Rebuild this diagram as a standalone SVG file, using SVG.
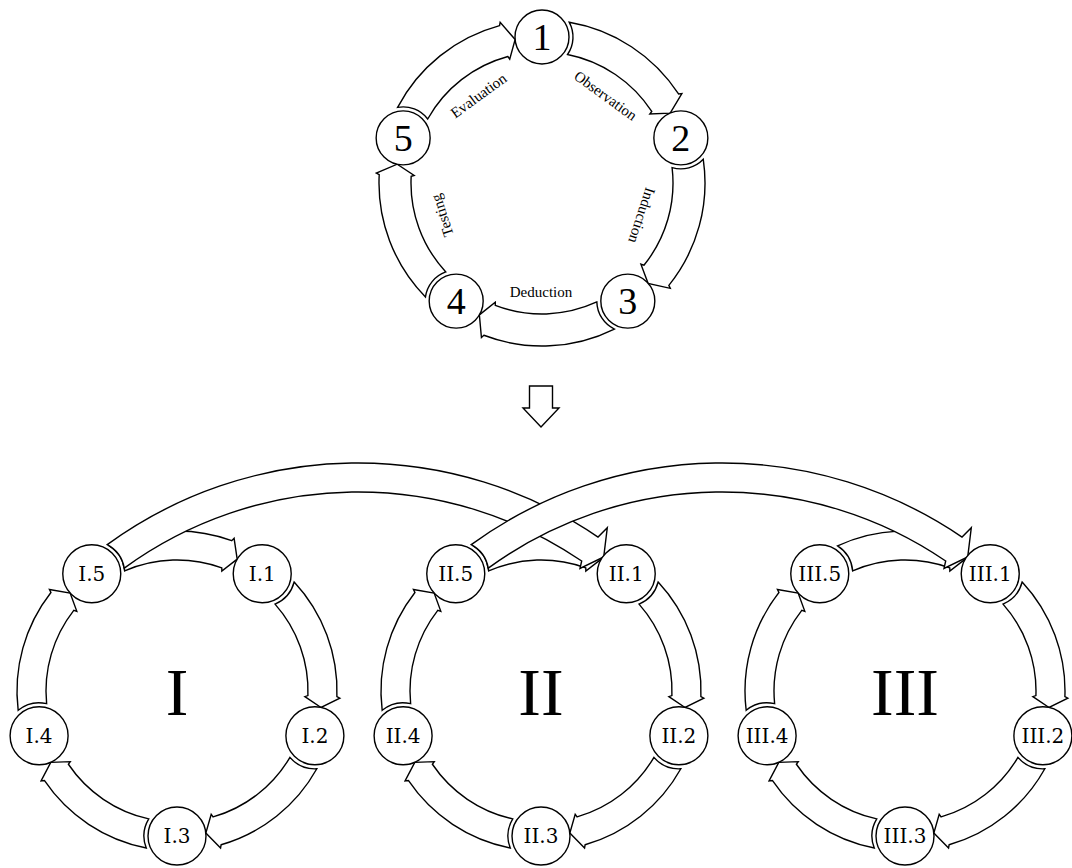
<svg xmlns="http://www.w3.org/2000/svg" width="1072" height="868" viewBox="0 0 1072 868">
<style>
.a{fill:#fff;stroke:#000;stroke-width:1.4;stroke-linejoin:miter}
.n{fill:#fff;stroke:#000;stroke-width:1.4}
.t{font-family:"Liberation Serif","Times New Roman",serif;fill:#000;text-anchor:middle}
.num{font-size:38px}
.lbl{font-size:15px}
.sub{font-family:"DejaVu Serif","Liberation Serif",serif;font-size:20px}
.big{font-size:68px}
</style>
<defs>
<path id="arcT" fill="#fff" stroke="#000" stroke-width="1.4" d="M 160.70 27.29 A 163 163 0 0 1 89.01 136.55 L 89.44 139.85 L 69.89 128.19 L 68.97 107.84 L 71.54 109.74 A 131 131 0 0 0 128.48 25.57 A 31 31 0 0 0 160.70 27.29 Z"/>
<path id="arcB" fill="#fff" stroke="#000" stroke-width="1.4" d="M 157.02 30.74 A 160 160 0 0 1 89.47 132.64 L 89.96 135.93 L 71.35 126.22 L 70.64 106.74 L 73.26 108.60 A 131 131 0 0 0 127.92 28.24 A 33 33 0 0 0 157.02 30.74 Z"/>
<path id="bigArrow" fill="#fff" stroke="#000" stroke-width="1.4" d="M 107.25 544.62 A 426 426 0 0 1 598.05 537.08 L 607.3 527.7 L 603.7 557.0 L 580.0 568.4 L 581.7 561.0 A 397 397 0 0 0 124.27 568.09 A 33 33 0 0 0 107.25 544.62 Z"/>
</defs>
<rect width="1072" height="868" fill="#fff"/>
<g id="connectors" class="a">
  <use href="#arcT" transform="translate(542,183) rotate(-90)"/>
  <use href="#arcT" transform="translate(542,183) rotate(-18)"/>
  <use href="#arcT" transform="translate(542,183) rotate(54)"/>
  <use href="#arcT" transform="translate(542,183) rotate(126)"/>
  <use href="#arcT" transform="translate(542,183) rotate(198)"/>
  <use href="#arcB" transform="translate(177,691) rotate(-54)"/>
  <use href="#arcB" transform="translate(177,691) rotate(18)"/>
  <use href="#arcB" transform="translate(177,691) rotate(90)"/>
  <use href="#arcB" transform="translate(177,691) rotate(162)"/>
  <use href="#arcB" transform="translate(177,691) rotate(234)"/>
  <use href="#arcB" transform="translate(541,691) rotate(-54)"/>
  <use href="#arcB" transform="translate(541,691) rotate(18)"/>
  <use href="#arcB" transform="translate(541,691) rotate(90)"/>
  <use href="#arcB" transform="translate(541,691) rotate(162)"/>
  <use href="#arcB" transform="translate(541,691) rotate(234)"/>
  <use href="#arcB" transform="translate(905,691) rotate(-54)"/>
  <use href="#arcB" transform="translate(905,691) rotate(18)"/>
  <use href="#arcB" transform="translate(905,691) rotate(90)"/>
  <use href="#arcB" transform="translate(905,691) rotate(162)"/>
  <use href="#arcB" transform="translate(905,691) rotate(234)"/>
  <use href="#bigArrow"/>
  <use href="#bigArrow" transform="translate(364,0)"/>
</g>
<g id="down-arrow">
  <polygon class="a" points="529.5,386 552.5,386 552.5,408 559,408 541,427 523,408 529.5,408"/>
</g>
<g id="cycle-labels">
  <text class="t lbl" transform="translate(542,183) rotate(36) translate(0,-103)">Observation</text>
  <text class="t lbl" transform="translate(542,183) rotate(108) translate(0,-100)">Induction</text>
  <text class="t lbl" x="541" y="297">Deduction</text>
  <text class="t lbl" transform="translate(542,183) rotate(252) translate(0,-100)">Testing</text>
  <text class="t lbl" transform="translate(542,183) rotate(-36) translate(0,-103)">Evaluation</text>
</g>
<g id="n1"><circle class="n" cx="542" cy="37" r="27"/><text class="t num" x="542" y="50">1</text></g>
<g id="n2"><circle class="n" cx="680.85" cy="137.88" r="27"/><text class="t num" x="680.85" y="150.88">2</text></g>
<g id="n3"><circle class="n" cx="627.82" cy="301.12" r="27"/><text class="t num" x="627.82" y="314.12">3</text></g>
<g id="n4"><circle class="n" cx="456.18" cy="301.12" r="27"/><text class="t num" x="456.18" y="314.12">4</text></g>
<g id="n5"><circle class="n" cx="403.15" cy="137.88" r="27"/><text class="t num" x="403.15" y="150.88">5</text></g>

<g id="nI1"><circle class="n" cx="262.23" cy="573.69" r="29"/><text class="t sub" x="262.23" y="581">I.1</text></g>
<g id="nI2"><circle class="n" cx="314.9" cy="735.81" r="29"/><text class="t sub" x="314.9" y="743.1">I.2</text></g>
<g id="nI3"><circle class="n" cx="177" cy="836" r="29"/><text class="t sub" x="177" y="843.3">I.3</text></g>
<g id="nI4"><circle class="n" cx="39.1" cy="735.81" r="29"/><text class="t sub" x="39.1" y="743.1">I.4</text></g>
<g id="nI5"><circle class="n" cx="91.77" cy="573.69" r="29"/><text class="t sub" x="91.77" y="581">I.5</text></g>

<g id="nII1"><circle class="n" cx="626.23" cy="573.69" r="29"/><text class="t sub" x="626.23" y="581">II.1</text></g>
<g id="nII2"><circle class="n" cx="678.9" cy="735.81" r="29"/><text class="t sub" x="678.9" y="743.1">II.2</text></g>
<g id="nII3"><circle class="n" cx="541" cy="836" r="29"/><text class="t sub" x="541" y="843.3">II.3</text></g>
<g id="nII4"><circle class="n" cx="403.1" cy="735.81" r="29"/><text class="t sub" x="403.1" y="743.1">II.4</text></g>
<g id="nII5"><circle class="n" cx="455.77" cy="573.69" r="29"/><text class="t sub" x="455.77" y="581">II.5</text></g>

<g id="nIII1"><circle class="n" cx="990.23" cy="573.69" r="29"/><text class="t sub" x="990.23" y="581">III.1</text></g>
<g id="nIII2"><circle class="n" cx="1042.9" cy="735.81" r="29"/><text class="t sub" x="1042.9" y="743.1">III.2</text></g>
<g id="nIII3"><circle class="n" cx="905" cy="836" r="29"/><text class="t sub" x="905" y="843.3">III.3</text></g>
<g id="nIII4"><circle class="n" cx="767.1" cy="735.81" r="29"/><text class="t sub" x="767.1" y="743.1">III.4</text></g>
<g id="nIII5"><circle class="n" cx="819.77" cy="573.69" r="29"/><text class="t sub" x="819.77" y="581">III.5</text></g>

<g id="cycle-titles">
  <text class="t big" x="177" y="715">I</text>
  <text class="t big" x="541" y="715">II</text>
  <text class="t big" x="905" y="715">III</text>
</g>
</svg>
